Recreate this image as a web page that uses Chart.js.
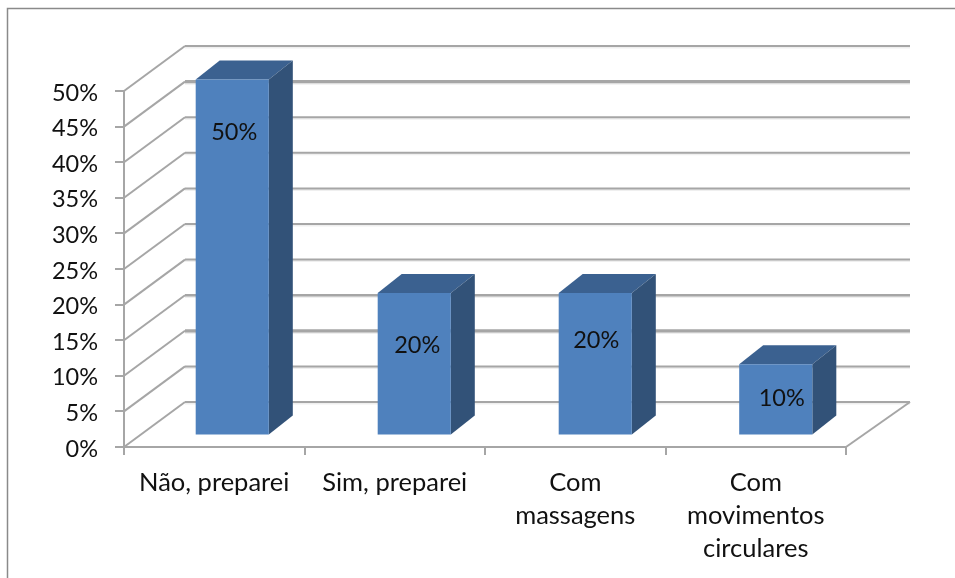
<!DOCTYPE html>
<html><head><meta charset="utf-8">
<style>html,body{margin:0;padding:0;background:#fff}canvas{display:block;filter:blur(0.45px)}</style>
<script src="https://cdn.jsdelivr.net/npm/chart.js@4"></script>
</head><body><canvas id="c" width="955" height="578"></canvas>
<script>
const categories = [["Não, preparei"], ["Sim, preparei"], ["Com", "massagens"], ["Com", "movimentos", "circulares"]];
const seriesValues = [50, 20, 20, 10];
const valueLabels = ["50%", "20%", "20%", "10%"];
const labelAnchorValues = [42.6, 12.7, 13.4, 5.2];
const labelShiftX = [2, 3, 1, 6];
const barNudge = [-2, -0.5, 0, 0];
const yMax = 50, yStep = 5;
const heavyGridValues = [45, 10, 15];
const heavyGridWidths = [3.2, 3.2, 2.4];

const FONT = 'Lato, "Open Sans", sans-serif';
const WALL = {dx: 61, dy: -45, extra: 3};
const BAR_PLANE = {dx: 20, dy: -11.5};
const BAR_DEPTH = {dx: 24, dy: -19};
const GRID = '#a6a6a6';

function line(ctx, x1, y1, x2, y2, w, col) {
  ctx.beginPath(); ctx.moveTo(x1, y1); ctx.lineTo(x2, y2);
  ctx.lineWidth = w; ctx.strokeStyle = col; ctx.stroke();
}
const scene = {
  id: 'scene',
  afterDatasetsUpdate(chart) {
    chart.getDatasetMeta(0).data.forEach((b, i) => { b.x += barNudge[i]; });
  },
  beforeDraw(chart) {
    const c = chart.ctx;
    c.save();
    c.fillStyle = '#fff'; c.fillRect(0, 0, chart.width, chart.height);
    c.strokeStyle = '#8a8a8a'; c.lineWidth = 1.5;
    c.beginPath(); c.moveTo(7.5, chart.height + 2); c.lineTo(7.5, 8.5); c.lineTo(chart.width + 2, 8.5); c.stroke();
    const {x, y} = chart.scales;
    const l = x.left, r = x.right;
    const y0 = y.getPixelForValue(0);
    line(c, r, y0, r + WALL.dx + WALL.extra, y0 + WALL.dy, 2, GRID);
    for (let v = 0; v <= yMax; v += yStep) {
      const py = y.getPixelForValue(v);
      const i = heavyGridValues.indexOf(v);
      const w = i >= 0 ? heavyGridWidths[i] : 2;
      c.globalAlpha = .18;
      line(c, l + WALL.dx, py + WALL.dy + 1.5, r + WALL.dx + WALL.extra, py + WALL.dy + 1.5, w, GRID);
      c.globalAlpha = 1;
      line(c, l, py, l + WALL.dx, py + WALL.dy, 2, GRID);
      line(c, l + WALL.dx, py + WALL.dy, r + WALL.dx + WALL.extra, py + WALL.dy, w, GRID);
    }
    c.restore();
  },
  beforeDatasetsDraw(chart) {
    chart.ctx.save();
    chart.ctx.translate(BAR_PLANE.dx, BAR_PLANE.dy);
    const c = chart.ctx;
    chart.getDatasetMeta(0).data.forEach(b => {
      const p = b.getProps(['x', 'y', 'width', 'base'], true);
      const L = p.x - p.width / 2, R = p.x + p.width / 2, T = p.y, B = p.base;
      const d = BAR_DEPTH;
      c.fillStyle = '#3b6190';
      c.beginPath(); c.moveTo(L, T); c.lineTo(L + d.dx, T + d.dy); c.lineTo(R + d.dx, T + d.dy); c.lineTo(R, T); c.closePath(); c.fill();
      c.fillStyle = '#325278';
      c.beginPath(); c.moveTo(R, T); c.lineTo(R + d.dx, T + d.dy); c.lineTo(R + d.dx, B + d.dy); c.lineTo(R, B); c.closePath(); c.fill();
    });
  },
  afterDatasetsDraw(chart) {
    const c = chart.ctx;
    const {y} = chart.scales;
    c.font = '23.5px ' + FONT; c.fillStyle = '#111';
    c.textAlign = 'center'; c.textBaseline = 'middle';
    chart.getDatasetMeta(0).data.forEach((b, i) => {
      c.fillText(valueLabels[i], b.x + labelShiftX[i], y.getPixelForValue(labelAnchorValues[i]));
    });
    c.restore();
  }
};

new Chart(document.getElementById('c'), {
  type: 'bar',
  data: {
    labels: categories,
    datasets: [{
      data: seriesValues,
      backgroundColor: '#4f81bd',
      borderWidth: 0,
      barPercentage: 0.405,
      categoryPercentage: 1,
      clip: false
    }]
  },
  plugins: [scene],
  options: {
    responsive: false,
    animation: false,
    devicePixelRatio: 1,
    layout: {padding: {top: 91, right: 109, left: 0, bottom: 0}},
    plugins: {legend: {display: false}, tooltip: {enabled: false}, title: {display: false}},
    scales: {
      x: {
        afterFit(s) { s.height = 131; },
        grid: {offset: true, drawOnChartArea: false, color: GRID, lineWidth: 2, tickLength: 8},
        border: {color: GRID, width: 2},
        ticks: {color: '#111', font: {family: FONT, size: 25.5, lineHeight: 1.3}, padding: 11, maxRotation: 0, autoSkip: false}
      },
      y: {
        min: 0, max: yMax,
        afterFit(s) { s.width = 124; },
        grid: {drawOnChartArea: false, color: GRID, lineWidth: 2, tickLength: 9},
        border: {color: GRID, width: 2},
        ticks: {stepSize: yStep, color: '#111', font: {family: FONT, size: 23.5}, padding: 17, labelOffset: 2, callback: v => v + '%'}
      }
    }
  }
});
</script></body></html>
